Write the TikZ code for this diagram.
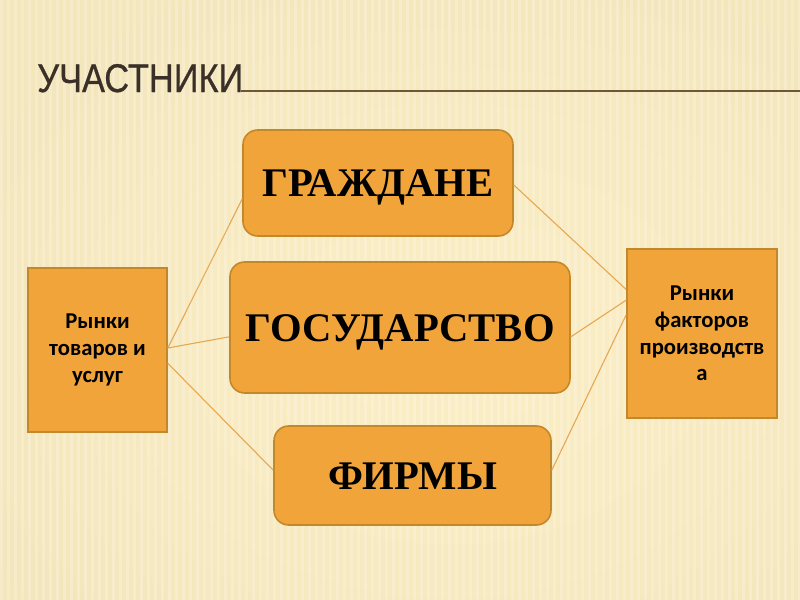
\documentclass[tikz,border=0pt]{standalone}
\usepackage{fontspec}
\setmainfont{Liberation Serif}
\newfontfamily\titlefont[FakeStretch=0.86,FakeBold=0.6]{Liberation Sans}
\newfontfamily\boxfont{Carlito}
\definecolor{bgcream}{HTML}{FBEEC6}
\definecolor{bgtan}{HTML}{D6C490}
\definecolor{boxfill}{HTML}{F1A43A}
\definecolor{boxedge}{HTML}{C4882C}
\definecolor{linkcol}{HTML}{E6A650}
\definecolor{titlecol}{HTML}{3A3027}
\definecolor{rulecol}{HTML}{6E5836}
\begin{document}
\begin{tikzpicture}[x=0.75pt,y=-0.75pt,
  sqbox/.style={draw=boxedge,line width=1.2pt,fill=boxfill,align=center,
    font=\boxfont\bfseries\fontsize{17}{20}\selectfont,text=black,inner sep=0pt},
  rbox/.style={draw=boxedge,line width=1.2pt,fill=boxfill,rounded corners=11pt,
    font=\bfseries\fontsize{30.5}{34}\selectfont,text=black,inner sep=0pt,
    text height=20.5pt,text depth=0pt},
  link/.style={draw=linkcol,line width=0.8pt}]
\useasboundingbox (0,0) rectangle (800,600);
% background
\fill[bgtan] (0,0) rectangle (800,600);
\shade[inner color=bgcream,outer color=bgcream!80!bgtan] (-100,-60) rectangle (1000,760);
\foreach \i in {0,7,...,800} {\fill[white,opacity=0.22] (\i,0) rectangle (\i+3,600);}
% title
\node[anchor=base west,inner sep=0pt,text=titlecol,font=\titlefont\fontsize{30}{30}\selectfont] (title) at (37,92) {УЧАСТНИКИ};
\coordinate (r1) at (241,91);
\coordinate (r2) at (800,91);
\draw[rulecol,line width=1.6pt] (r1) -- (r2);
% boxes
\node[sqbox,minimum width=139*0.75pt,minimum height=164*0.75pt] (L) at (97.5,350) {Рынки\\товаров и\\услуг};
\node[sqbox,minimum width=150*0.75pt,minimum height=169*0.75pt] (R) at (702,333.5) {Рынки\\факторов\\производств\\а};
\node[rbox,minimum width=270*0.75pt,minimum height=106*0.75pt] (G) at (378,183) {ГРАЖДАНЕ};
\node[rbox,minimum width=340*0.75pt,minimum height=131*0.75pt] (S) at (400,327.5) {ГОСУДАРСТВО};
\node[rbox,minimum width=277*0.75pt,minimum height=99*0.75pt] (F) at (412.5,475.5) {ФИРМЫ};
% connectors
\draw[link] ([yshift=1.5pt]L.east) -- ([yshift=-12pt]G.west);
\draw[link] ([yshift=1.5pt]L.east) -- ([yshift=-7pt]S.west);
\draw[link] ([yshift=-10pt]L.east) -- ([yshift=4pt]F.west);
\draw[link] ([yshift=-1.5pt]G.east) -- ([yshift=33pt]R.west);
\draw[link] ([yshift=-7pt]S.east) -- ([yshift=25pt]R.west);
\draw[link] ([yshift=4pt]F.east) -- ([yshift=14pt]R.west);
\end{tikzpicture}
\end{document}
